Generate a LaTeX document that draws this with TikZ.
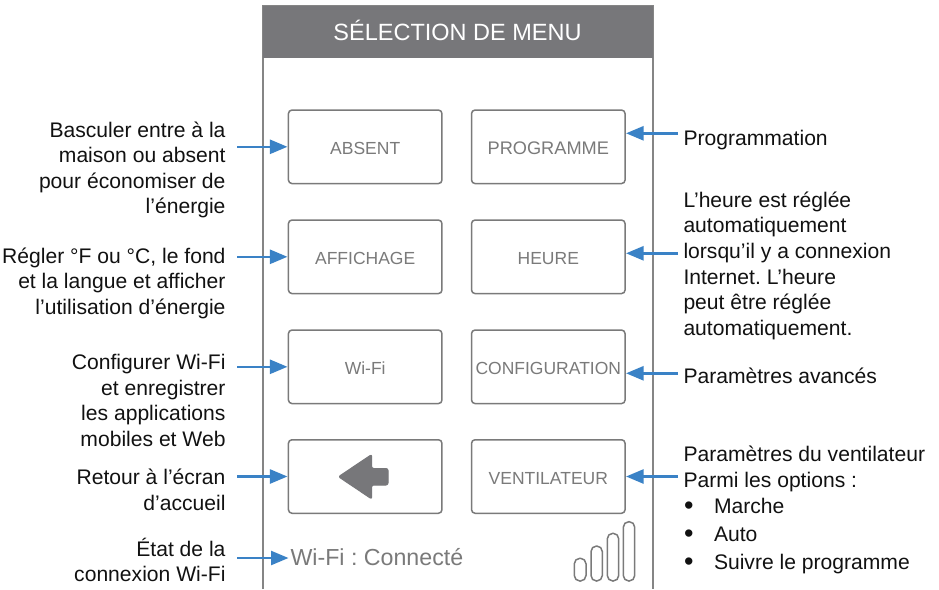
\documentclass[tikz,border=0pt]{standalone}
\usepackage{fontspec}
\setmainfont{Liberation Sans}
\frenchspacing
\usetikzlibrary{arrows.meta}
\definecolor{framegray}{HTML}{858585}
\definecolor{headgray}{HTML}{77777A}
\definecolor{btngray}{HTML}{7A7A7A}
\definecolor{btntext}{HTML}{7A7A7A}
\definecolor{arrowblue}{HTML}{3A82C6}
\definecolor{labtext}{HTML}{111111}
\newcommand{\lh}{\rule{0pt}{14pt}}
\newcommand{\bul}[1]{\makebox[30.5pt][l]{\hspace{0.6pt}\raisebox{-1pt}{\fontsize{27}{27}\selectfont\textbullet}}#1}
\tikzset{
  btn/.style={draw=btngray,line width=1.5pt,rounded corners=3.5pt,minimum width=153.5pt,minimum height=73.5pt,inner sep=0pt,outer sep=0pt,text=btntext,font=\fontsize{17.5}{20}\selectfont,fill=white,text height=15pt,text depth=0pt},
  leftlab/.style={anchor=north east,align=right,inner sep=0pt,outer sep=0pt,text=labtext,font=\fontsize{21.1}{25.5}\selectfont},
  rightlab/.style={anchor=north west,align=left,inner sep=0pt,outer sep=0pt,text=labtext,font=\fontsize{21.1}{25.6}\selectfont},
  conn/.style={draw=arrowblue,line width=2.4pt,-{Triangle[length=17.5pt,width=14pt]},shorten >=1pt},
  sigbar/.style={draw=btngray,line width=1.5pt,rounded corners=5.5pt}
}
\begin{document}
\begin{tikzpicture}[x=1pt,y=-1pt]
\useasboundingbox (0,0) rectangle (939,589);
% device
\fill[white] (263,6) rectangle (653,589);
\draw[framegray,line width=1.5pt] (263,589) -- (263,6) -- (653,6) -- (653,589);
\fill[headgray] (263,6) rectangle (653,58);
\node[anchor=base,inner sep=0pt,text=white,font=\fontsize{23.5}{28}\selectfont] (title) at (457.5,40.7) {SÉLECTION DE MENU};
% buttons
\node[btn] (absent) at (365.2,146.8) {ABSENT};
\node[btn,font=\fontsize{18.2}{22}\selectfont] (programme) at (548.3,146.8) {PROGRAMME};
\node[btn] (affichage) at (365.2,256.8) {AFFICHAGE};
\node[btn] (heure) at (548.3,256.8) {HEURE};
\node[btn] (wifi) at (365.2,366.8) {Wi-Fi};
\node[btn] (config) at (548.3,366.8) {CONFIGURATION};
\node[btn] (retour) at (365.2,476.5) {};
\node[btn] (ventil) at (548.3,476.5) {VENTILATEUR};
\fill[headgray,draw=headgray,line width=1pt,line join=round,rounded corners=2pt] (338.5,476.7) -- (371.7,454.5) -- (371.7,468.5) -- (388,468.5) -- (388,485) -- (371.7,485) -- (371.7,499) -- cycle;
% status
\node[anchor=base west,inner sep=0pt,outer sep=0pt,text=btntext,font=\fontsize{23.2}{26}\selectfont] (status) at (290.5,565.5) {Wi-Fi : Connecté};
\draw[sigbar] (574.3,558.3) rectangle (586,581);
\draw[sigbar] (591,546) rectangle (602.3,581);
\draw[sigbar] (607.3,533.3) rectangle (618.7,581);
\draw[sigbar] (623.3,521.7) rectangle (634.7,581);
% left labels
\node[leftlab] (lab1) at (225.5,121.7) {\lh Basculer entre à la\\maison ou absent\\pour économiser de\\l’énergie};
\node[leftlab] (lab2) at (225.5,247.7) {\lh Régler °F ou °C, le fond\\et la langue et afficher\\l’utilisation d’énergie};
\node[leftlab] (lab3) at (225.5,354.3) {\lh Configurer Wi-Fi\\et enregistrer\\les applications\\mobiles et Web};
\node[leftlab] (lab4) at (225.5,469.3) {\lh Retour à l’écran\\d’accueil};
\node[leftlab] (lab5) at (225.5,537.7) {\lh État de la\\connexion Wi-Fi};
% right labels
\node[rightlab] (rab1) at (683.5,130.5) {\lh Programmation};
\node[rightlab] (rab2) at (683.5,191.7) {\lh L’heure est réglée\\automatiquement\\lorsqu’il y a connexion\\Internet. L’heure\\peut être réglée\\automatiquement.};
\node[rightlab] (rab3) at (683.5,368) {\lh Paramètres avancés};
\node[rightlab] (rab4) at (683.5,446) {\lh Paramètres du ventilateur\\Parmi les options :\\[0.3pt]\bul{Marche}\\[2.5pt]\bul{Auto}\\[2.5pt]\bul{Suivre le programme}};
% connectors
\draw[conn] ([xshift=11.5pt]lab1.east |- absent.west) -- (absent.west);
\draw[conn] ([xshift=11.5pt]lab2.east |- affichage.west) -- (affichage.west);
\draw[conn] ([xshift=11.5pt]lab3.east |- wifi.west) -- (wifi.west);
\draw[conn] ([xshift=11.5pt]lab4.east |- retour.west) -- (retour.west);
\coordinate (ts) at (status.base west);
\coordinate (tw) at ([xshift=-1pt,yshift=7.5pt]ts);
\draw[conn] ([xshift=11.5pt]lab5.east |- tw) -- (tw);
\coordinate (tp) at ([yshift=13.5pt]programme.east);
\coordinate (th) at ([yshift=3.5pt]heure.east);
\coordinate (tc) at ([yshift=-6.5pt]config.east);
\coordinate (tv) at (ventil.east);
\draw[conn] ([xshift=-5.5pt]rab1.west |- tp) -- (tp);
\draw[conn] ([xshift=-5.5pt]rab2.west |- th) -- (th);
\draw[conn] ([xshift=-5.5pt]rab3.west |- tc) -- (tc);
\draw[conn] ([xshift=-5.5pt]rab4.west |- tv) -- (tv);
\end{tikzpicture}
\end{document}
